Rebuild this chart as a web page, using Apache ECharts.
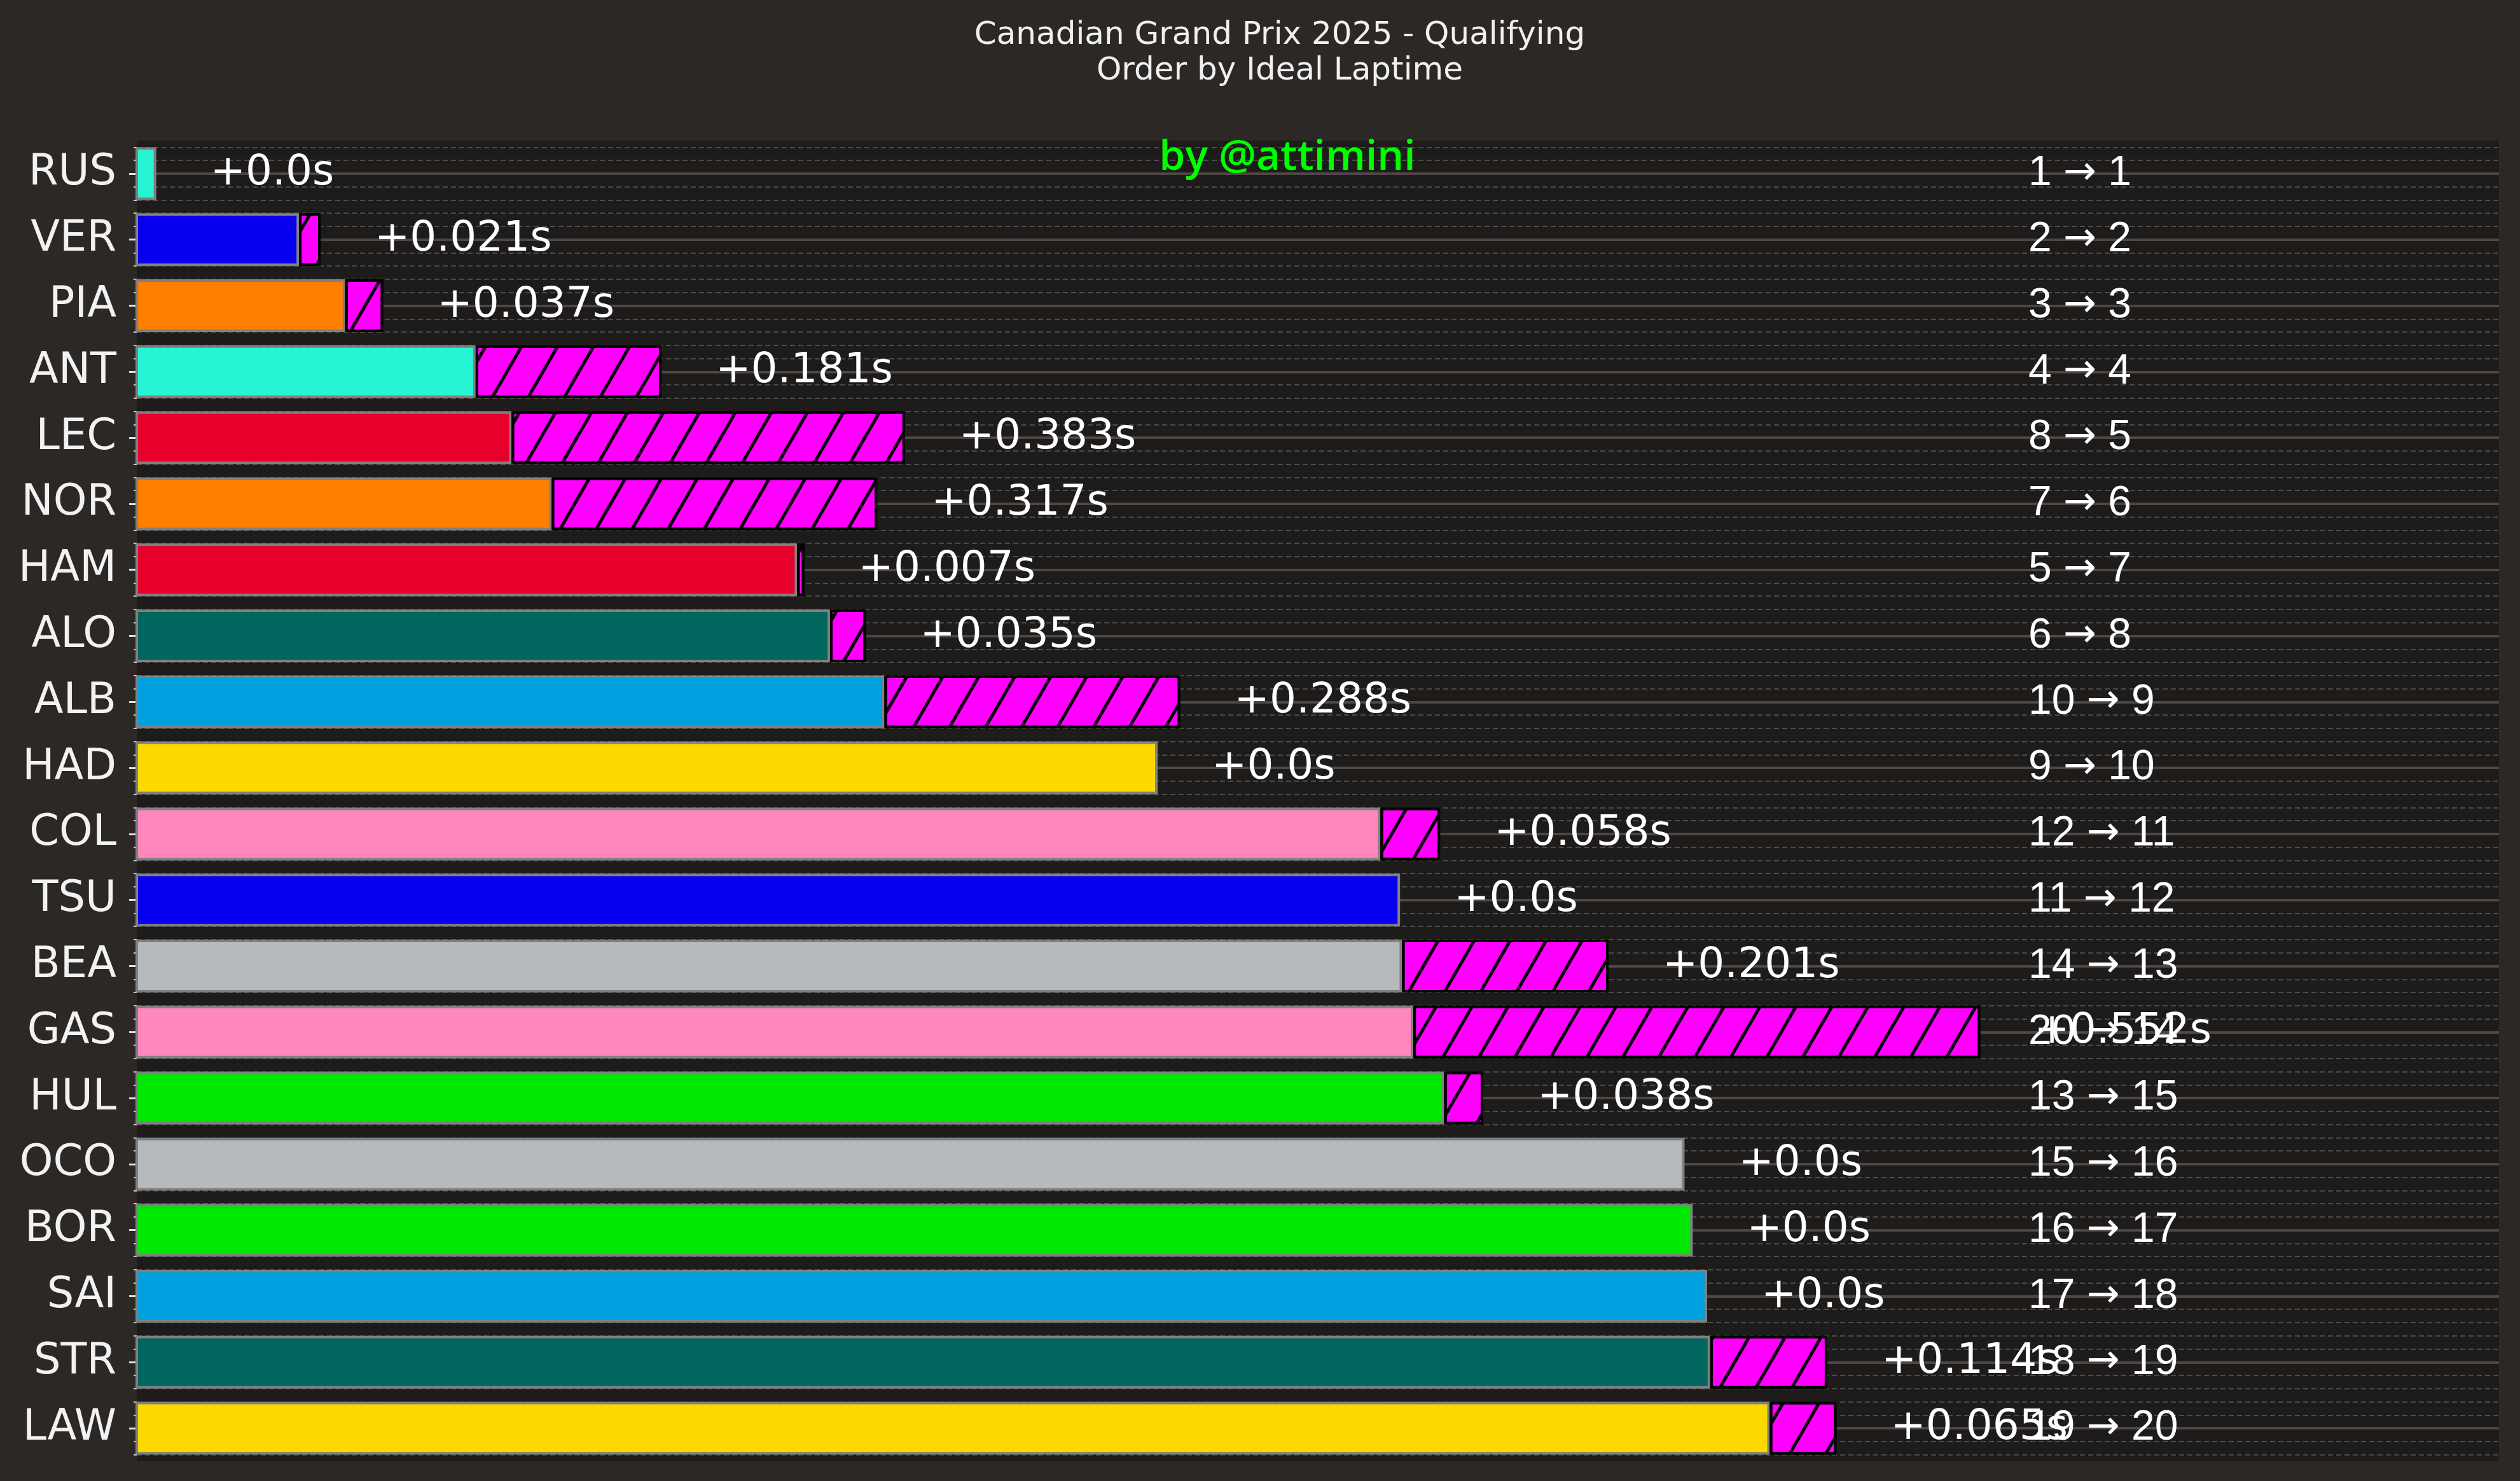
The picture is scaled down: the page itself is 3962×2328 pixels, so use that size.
<!DOCTYPE html>
<html>
<head>
<meta charset="utf-8">
<title>Canadian Grand Prix 2025 - Qualifying</title>
<script src="https://cdn.jsdelivr.net/npm/echarts@6/dist/echarts.min.js"></script>
<style>
html, body { margin: 0; padding: 0; background: #2b2826; }
#chart { width: 3962px; height: 2328px; }
</style>
</head>
<body>
<div id="chart"></div>
<script>
// order by ideal laptime
var drivers = ['RUS', 'VER', 'PIA', 'ANT', 'LEC', 'NOR', 'HAM', 'ALO', 'ALB', 'HAD',
    'COL', 'TSU', 'BEA', 'GAS', 'HUL', 'OCO', 'BOR', 'SAI', 'STR', 'LAW'];
// ideal laptime (s)
var idealLap = [70.899, 71.038, 71.083, 71.210, 71.245, 71.284, 71.523, 71.555, 71.608, 71.874,
    72.091, 72.110, 72.112, 72.123, 72.153, 72.387, 72.395, 72.409, 72.412, 72.470];
// real lap - ideal lap (s)
var delta = [0.0, 0.021, 0.037, 0.181, 0.383, 0.317, 0.007, 0.035, 0.288, 0.0,
    0.058, 0.0, 0.201, 0.552, 0.038, 0.0, 0.0, 0.0, 0.114, 0.065];
var actualPos = [1, 2, 3, 4, 8, 7, 5, 6, 10, 9, 12, 11, 14, 20, 13, 15, 16, 17, 18, 19];
var idealPos = [1, 2, 3, 4, 5, 6, 7, 8, 9, 10, 11, 12, 13, 14, 15, 16, 17, 18, 19, 20];
var teamColors = ['#27F4D2', '#0600EF', '#FF8000', '#27F4D2', '#E8002D', '#FF8000', '#E8002D', '#00665E', '#00A0DE', '#FDD900',
    '#FF87BC', '#0600EF', '#B6BABD', '#FF87BC', '#00E701', '#B6BABD', '#00E701', '#00A0DE', '#00665E', '#FDD900'];

var posLabels = drivers.map(function(d, i) {
    return '{d|' + actualPos[i] + '\u00a0}{a|\u2192}{d|\u00a0' + idealPos[i] + '}';
});

var chart = echarts.init(document.getElementById('chart'), null, { renderer: 'canvas' });

var gridL = 215, gridR = 33;

var option = {
    backgroundColor: '#2b2826',
    animation: false,
    grid: [
        { left: gridL, right: gridR, top: 221, bottom: 31, show: true, backgroundColor: '#1e1c1b', borderWidth: 0 },
        { left: gridL, right: gridR, top: 231.4, bottom: 41.4 },
        { left: gridL, right: gridR, top: 272.9, bottom: 82.9 }
    ],
    xAxis: [
        { gridIndex: 0, type: 'value', min: 70.88, max: 73.18, show: false },
        { gridIndex: 1, type: 'value', min: 0, max: 1, show: false },
        { gridIndex: 2, type: 'value', min: 0, max: 1, show: false }
    ],
    yAxis: [
        {
            gridIndex: 0, type: 'category', inverse: true, data: drivers,
            axisLine: { show: false }, axisTick: { show: false }, splitLine: { show: false },
            axisLabel: { interval: 0, color: '#f2f2f2', fontSize: 67, fontFamily: 'DejaVu Sans', margin: 32 }
        },
        {
            gridIndex: 0, type: 'category', position: 'right', inverse: true, data: posLabels,
            axisLine: { show: false }, axisTick: { show: false }, splitLine: { show: false },
            axisLabel: {
                interval: 0, color: '#ffffff', margin: -740, align: 'left',
                rich: {
                    d: { color: '#ffffff', fontSize: 66, fontFamily: 'Liberation Sans' },
                    a: { color: '#ffffff', fontSize: 62, fontFamily: 'DejaVu Sans' }
                }
            }
        },
        {
            // minor grid
            gridIndex: 1, type: 'value', inverse: true, min: -0.4, max: 19.4, interval: 0.2,
            axisLine: { show: false }, axisLabel: { show: false },
            axisTick: { show: true, length: 5, lineStyle: { color: '#d0d0d0', width: 2 } },
            splitLine: { show: true, lineStyle: { color: '#4c4a48', width: 2, type: [8, 5] } }
        },
        {
            // major grid
            gridIndex: 2, type: 'value', inverse: true, min: 0, max: 19, interval: 1,
            axisLine: { show: false }, axisLabel: { show: false },
            axisTick: { show: true, length: 12, lineStyle: { color: '#e0e0e0', width: 3 } },
            splitLine: { show: true, lineStyle: { color: '#4e4743', width: 4 } }
        }
    ],
    series: [
        {
            name: 'Ideal', type: 'bar', xAxisIndex: 0, yAxisIndex: 0, stack: 'lap', barWidth: '80%',
            data: idealLap.map(function(v, i) {
                return { value: v, itemStyle: { color: teamColors[i] } };
            }),
            itemStyle: { borderColor: '#808080', borderWidth: 4 }
        },
        {
            name: 'Delta', type: 'bar', xAxisIndex: 0, yAxisIndex: 0, stack: 'lap', barWidth: '80%',
            data: delta.map(function(d) {
                return d === 0 ? { value: d, itemStyle: { borderWidth: 0 } } : { value: d };
            }),
            itemStyle: {
                color: '#ff00ff', borderColor: '#000000', borderWidth: 4,
                decal: {
                    symbol: 'rect', symbolSize: 1, color: '#000000',
                    dashArrayX: [1, 0], dashArrayY: [5, 44], rotation: -Math.PI / 3
                }
            },
            label: {
                show: true, position: 'right', distance: 85,
                color: '#ffffff', fontSize: 66, fontFamily: 'DejaVu Sans',
                formatter: function(p) {
                    var v = delta[p.dataIndex];
                    return '+' + (v === 0 ? '0.0' : v.toFixed(3)) + 's';
                }
            }
        }
    ],
    graphic: [
        {
            type: 'text', x: 2012, y: 84, z: 10,
            style: {
                text: 'Canadian Grand Prix 2025 - Qualifying\nOrder by Ideal Laptime',
                fill: '#f0f0f0', fontSize: 50, fontFamily: 'DejaVu Sans', lineHeight: 56,
                align: 'center', verticalAlign: 'middle'
            }
        },
        {
            type: 'text', x: 2024, y: 248, z: 10,
            style: {
                text: 'by @attimini', fill: '#00ff00', fontSize: 66, fontWeight: 600,
                fontFamily: 'Open Sans', align: 'center', verticalAlign: 'middle'
            }
        }
    ]
};

chart.setOption(option);
</script>
</body>
</html>
